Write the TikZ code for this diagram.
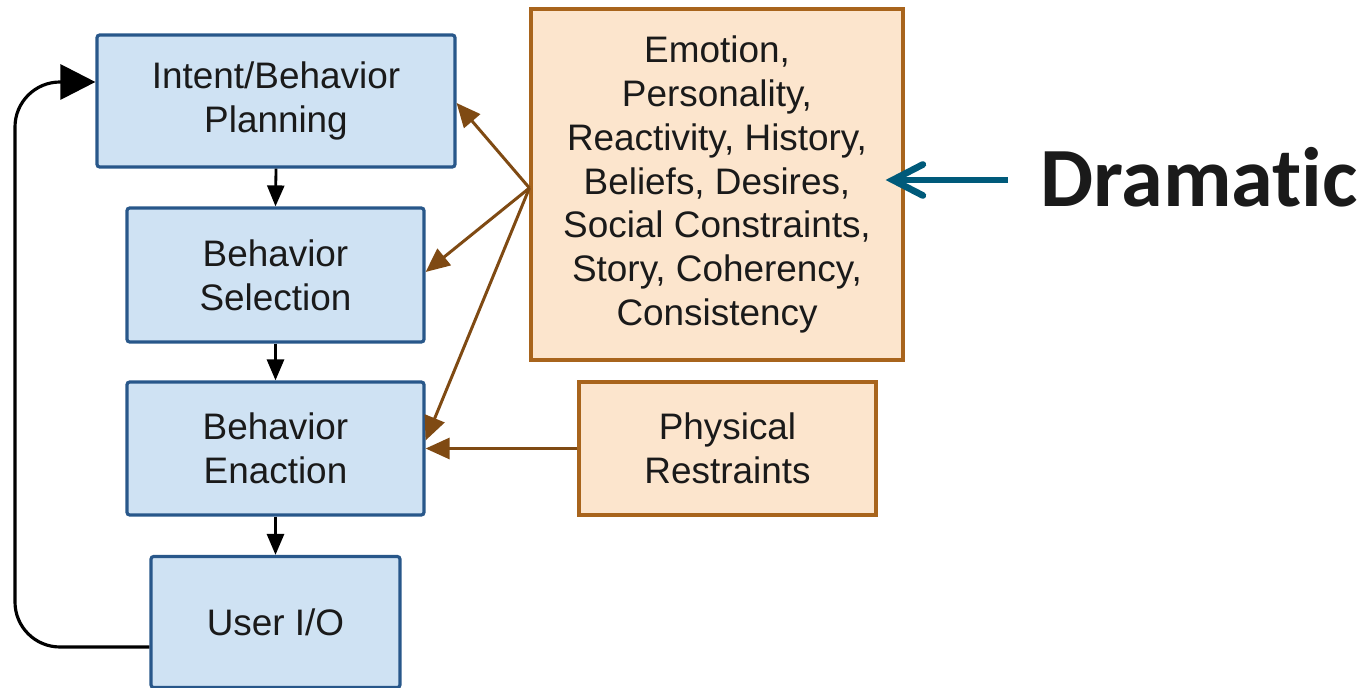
\documentclass[tikz,border=0pt]{standalone}
\usepackage{fontspec}
\setmainfont{Liberation Sans}
\newfontfamily\dramfont[Ligatures=NoCommon]{Carlito}
\usetikzlibrary{arrows.meta,calc}
\definecolor{bluefill}{HTML}{CFE2F3}
\definecolor{blueline}{HTML}{28578A}
\definecolor{orfill}{HTML}{FCE5CD}
\definecolor{orline}{HTML}{A8641C}
\definecolor{brownarr}{HTML}{7F4A13}
\definecolor{tealarr}{HTML}{005A7A}
\definecolor{txt}{HTML}{1A1A1A}
\begin{document}
\begin{tikzpicture}[x=0.02cm,y=-0.02cm,
  bluebox/.style={draw=blueline,fill=bluefill,line width=1.8pt,rounded corners=1.5pt,
    align=center,inner sep=0pt,text=txt,font=\fontsize{21}{25}\selectfont},
  orbox/.style={draw=orline,fill=orfill,line width=1.8pt,
    align=center,inner sep=0pt,text=txt,font=\fontsize{21}{25}\selectfont},
  flowarr/.style={line width=1.6pt,-{Triangle[length=0.42cm,width=0.34cm]}},
  brownline/.style={draw=brownarr,line width=1.7pt,-{Triangle[length=0.48cm,width=0.42cm]},color=brownarr},
  looparr/.style={line width=1.8pt,rounded corners=0.9cm,-{Triangle[length=0.7cm,width=0.7cm]}},
  dramarr/.style={draw=tealarr,line width=3.8pt,-{Straight Barb[length=0.6cm,width=0.62cm,line cap=round]}}
]
\useasboundingbox (0,0) rectangle (1370,688);
\node[bluebox,minimum width=0.02cm*358,minimum height=0.02cm*132] (b1) at (276,101) {Intent/Behavior\\Planning};
\node[bluebox,minimum width=0.02cm*297,minimum height=0.02cm*134] (b2) at (275.5,275) {Behavior\\Selection};
\node[bluebox,minimum width=0.02cm*297,minimum height=0.02cm*133] (b3) at (275.5,448.5) {Behavior\\Enaction};
\node[bluebox,minimum width=0.02cm*249,minimum height=0.02cm*131] (b4) at (275.5,622) {User I/O};
\node[orbox,minimum width=0.02cm*372,minimum height=0.02cm*351] (o1) at (717,184.5) {Emotion,\\Personality,\\Reactivity, History,\\Beliefs, Desires,\\Social Constraints,\\Story, Coherency,\\Consistency};
\node[orbox,minimum width=0.02cm*297,minimum height=0.02cm*133] (o2) at (727.5,448.5) {Physical\\Restraints};
\node[anchor=base west,inner sep=0pt,text=txt,font=\dramfont\bfseries\fontsize{48}{50}\selectfont] (dram) at (1040,207) {Dramatic};
\coordinate (src) at ($(o1.west)+(0,3.5)$);
\draw[flowarr] (b1.south) -- (b2.north);
\draw[flowarr] (b2.south) -- (b3.north);
\draw[flowarr] (b3.south) -- (b4.north);
\draw[brownline] (src) -- ($(b1.east)+(0,2)$);
\draw[brownline] (src) -- ($(b2.east)+(0,-3)$);
\draw[brownline] (src) -- ($(b3.east)+(0,-8)$);
\draw[brownline] (o2.west) -- (b3.east);
\coordinate (loopx) at (15,0);
\draw[looparr] ($(b4.west)+(0,25)$) -| ($(loopx|-b1.west)+(0,-19)$) -- ($(b1.west)+(0,-19)$);
\coordinate (dramstart) at (1008,180);
\draw[dramarr] (dramstart) -- ($(dramstart-|o1.east)+(-19,0)$);
\end{tikzpicture}
\end{document}
